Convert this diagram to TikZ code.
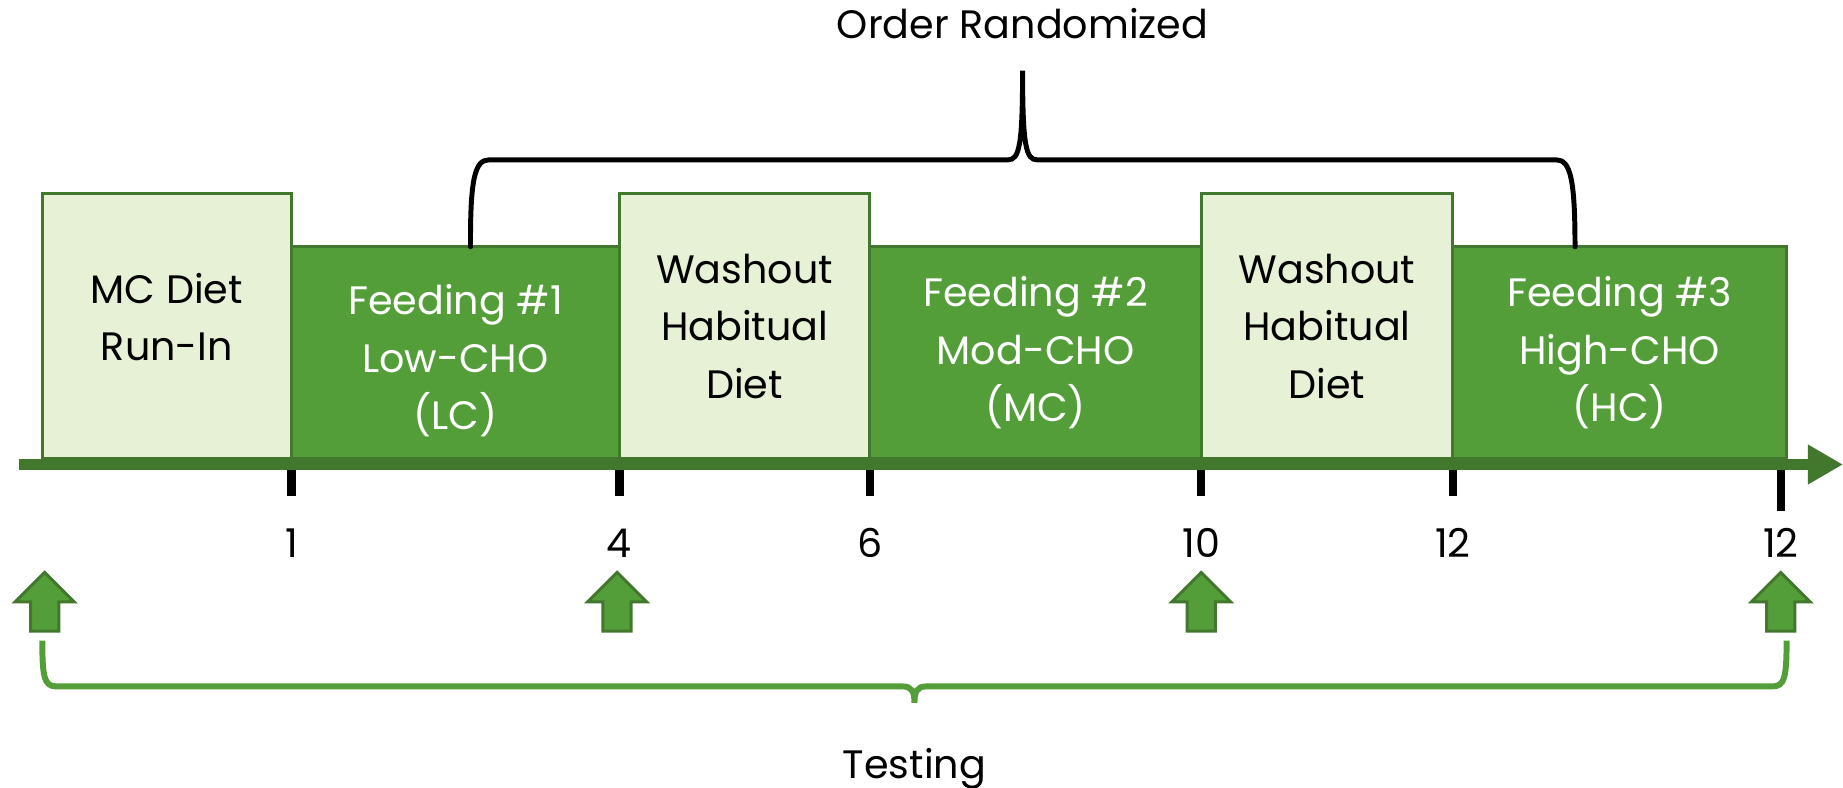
\documentclass[tikz,border=0pt]{standalone}
\usepackage{fontspec}
\setmainfont{Poppins}
\usetikzlibrary{positioning,arrows.meta}
\definecolor{leafgreen}{HTML}{549E39}
\definecolor{darkleaf}{HTML}{41782D}
\definecolor{palegreen}{HTML}{E6F1D6}

\begin{document}
\begin{tikzpicture}[every node/.style={font=\fontsize{12}{17.4}\selectfont},
  washbox/.style={rectangle, draw=darkleaf, line width=0.9pt, fill=palegreen, anchor=south west, align=center, inner sep=0pt, outer sep=0pt, minimum height=2.8125cm},
  feedbox/.style={rectangle, draw=darkleaf, line width=0.9pt, fill=leafgreen, text=white, anchor=south west, align=center, inner sep=0pt, outer sep=0pt, minimum height=2.25cm},
  tickmark/.style={line width=2.5pt},
  ticklabel/.style={anchor=base},
  testarrow/.style={draw=darkleaf, fill=leafgreen, line width=0.9pt, line join=miter},
  orderbrace/.style={line width=1.5pt, line cap=round},
  testbrace/.style={line width=1.8pt, draw=leafgreen}]
  \useasboundingbox (0,0) rectangle (19.6,-8.375);

  % boxes along the time line
  \node[washbox, minimum width=2.65cm] (run) at (0.45,-4.875) {MC Diet\\Run-In\rule[-0.2cm]{0pt}{0.2cm}};
  \node[feedbox, minimum width=3.4875cm] (f1) at (3.10,-4.875) {\rule{0pt}{0.5cm}Feeding \#1\\Low-CHO\\(LC)};
  \node[washbox, minimum width=2.6625cm] (w1) at (6.5875,-4.875) {Washout\\Habitual\\Diet};
  \node[feedbox, minimum width=3.525cm] (f2) at (9.25,-4.875) {Feeding \#2\\Mod-CHO\\(MC)};
  \node[washbox, minimum width=2.675cm] (w2) at (12.775,-4.875) {Washout\\Habitual\\Diet};
  \node[feedbox, minimum width=3.55cm] (f3) at (15.45,-4.875) {Feeding \#3\\High-CHO\\(HC)};

  % axis
  \coordinate (start) at (0.2,-4.94);
  \coordinate (end) at (19.6,-4.94);
  \draw[darkleaf, line width=3.5pt, -{Triangle[length=0.375cm, width=0.4cm]}] (start) -- (end);

  % ticks and weeks
  \foreach \b/\n in {f1/1,w1/4,f2/6,w2/10,f3/12} {
    \draw[tickmark] (\b.south west) ++(0,-0.125) coordinate (t\n) -- ++(0,-0.275);
    \node[ticklabel] (l\n) at (t\n |- 0,-5.93) {\n};
  }
  \coordinate (tlast) at (18.94,-5.0);
  \draw[tickmark] (tlast) -- ++(0,-0.43);
  \node[ticklabel] (llast) at (tlast |- 0,-5.93) {12};

  % testing points
  \foreach \a/\x in {a0/0.475,a4/6.5625,a10/12.775,a12/18.9375} {
    \coordinate (\a) at (\x,-6.0875);
    \draw[testarrow] (\a) -- ++(0.3125,-0.3125) -- ++(-0.1625,0) -- ++(0,-0.3125)
      -- ++(-0.3,0) -- ++(0,0.3125) -- ++(-0.1625,0) -- cycle;
  }

  % braces
  \coordinate (randL) at ([xshift=0.16cm]f1.north);
  \coordinate (randR) at ([xshift=-0.475cm]f3.north);
  \draw[orderbrace] (randL) .. controls (5.0,-1.9) and (5.05,-1.7) .. (5.2,-1.7) -- (10.72,-1.7)
    .. controls (10.84,-1.7) and (10.875,-1.55) .. (10.875,-0.75)
    .. controls (10.875,-1.55) and (10.91,-1.7) .. (11.03,-1.7) -- (16.55,-1.7)
    .. controls (16.7,-1.7) and (16.75,-1.9) .. (randR);
  \node[anchor=base] (order) at (10.875,-0.41) {Order Randomized};

  \coordinate (testL) at (0.45,-6.8125);
  \coordinate (testR) at (19.0,-6.8125);
  \draw[testbrace] (testL) .. controls (0.45,-7.2) and (0.47,-7.3) .. (0.6,-7.3) -- (9.6,-7.3)
    .. controls (9.7,-7.3) and (9.725,-7.36) .. (9.725,-7.475)
    .. controls (9.725,-7.36) and (9.75,-7.3) .. (9.85,-7.3) -- (18.85,-7.3)
    .. controls (18.98,-7.3) and (19.0,-7.2) .. (testR);
  \node[anchor=base] (testing) at (9.725,-8.28) {Testing};
\end{tikzpicture}
\end{document}
